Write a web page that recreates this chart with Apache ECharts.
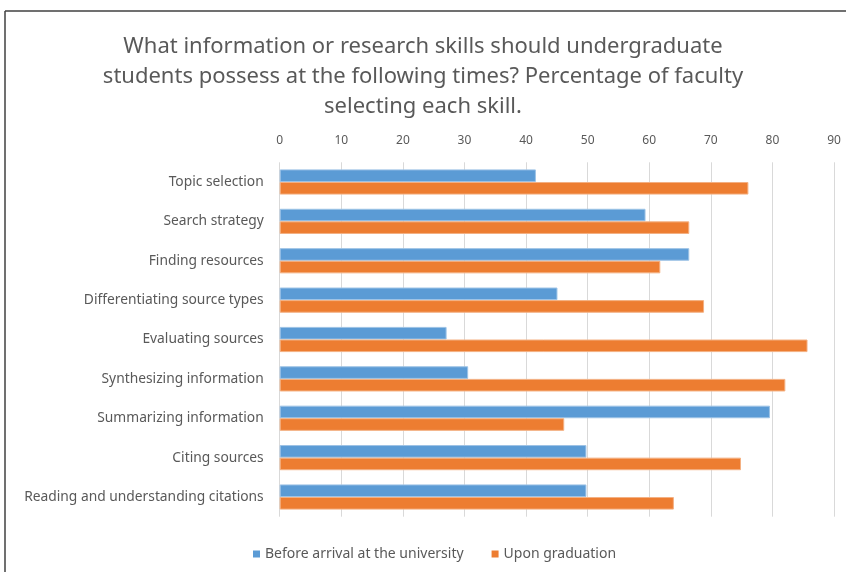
<!DOCTYPE html>
<html><head><meta charset="utf-8">
<script src="https://cdn.jsdelivr.net/npm/echarts@6/dist/echarts.min.js"></script>
<style>html,body{margin:0;padding:0;background:#fff}#c{width:846px;height:572px}</style>
</head><body><div id="c"></div>
<script>
const categories = ["Topic selection","Search strategy","Finding resources","Differentiating source types","Evaluating sources","Synthesizing information","Summarizing information","Citing sources","Reading and understanding citations"];
const beforeArrival = [41.6,59.4,66.5,45.1,27.1,30.6,79.6,49.8,49.8];
const uponGraduation = [76.1,66.5,61.8,68.9,85.7,82.1,46.2,74.9,64.0];
const seriesNames = ["Before arrival at the university","Upon graduation"];
const titleText = "What information or research skills should undergraduate\nstudents possess at the following times? Percentage of faculty\nselecting each skill.";
const FONT = "'Noto Sans', sans-serif";
const chart = echarts.init(document.getElementById('c'));
chart.setOption({
  animation:false,
  title:{text:titleText,left:'center',top:27,textStyle:{fontFamily:FONT,fontSize:22,fontWeight:'normal',color:'#595959',lineHeight:30}},
  grid:{left:279.7,right:12,top:162.3,bottom:55.3},
  legend:{bottom:6,left:248,itemWidth:7,itemHeight:7,itemGap:28,icon:'rect',itemStyle:{borderWidth:0},textStyle:{fontFamily:FONT,fontSize:14,color:'#595959'},data:seriesNames},
  xAxis:{type:'value',position:'top',min:0,max:90,interval:10,axisLine:{show:false},axisTick:{show:false},
    axisLabel:{fontFamily:FONT,fontSize:12,color:'#595959',margin:16},splitLine:{lineStyle:{color:'#d9d9d9',width:1}}},
  yAxis:{type:'category',inverse:true,data:categories,axisLine:{show:false},axisTick:{show:false},
    axisLabel:{fontFamily:FONT,fontSize:13.8,color:'#595959',margin:16}},
  series:[
    {name:seriesNames[0],type:'bar',data:beforeArrival,barGap:'0%',barCategoryGap:'36%',itemStyle:{color:'#5B9BD5',borderColor:'#9dc3e6',borderWidth:1}},
    {name:seriesNames[1],type:'bar',data:uponGraduation,barGap:'0%',barCategoryGap:'36%',itemStyle:{color:'#ED7D31',borderColor:'#f4b183',borderWidth:1}}
  ],
  graphic:[
    {type:'line',shape:{x1:5,y1:11,x2:846,y2:11},style:{stroke:'#404040',lineWidth:1.5}},
    {type:'line',shape:{x1:5,y1:11,x2:5,y2:572},style:{stroke:'#404040',lineWidth:1.5}}
  ]
});
</script></body></html>
